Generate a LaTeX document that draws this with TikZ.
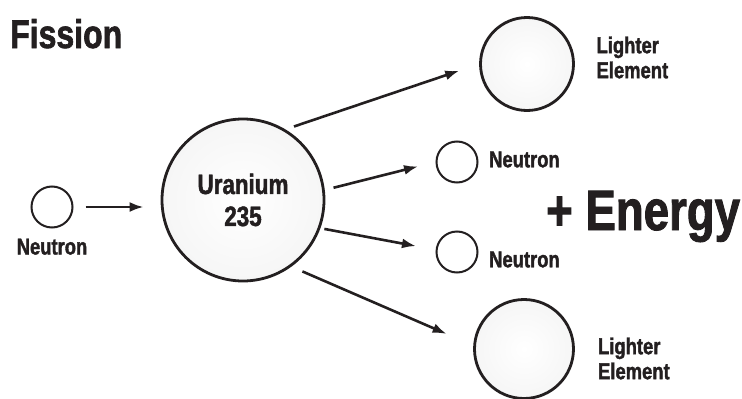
\documentclass[tikz,border=0pt]{standalone}
\usepackage{fontspec}
\setmainfont{Liberation Sans}[FakeStretch=0.8, BoldFeatures={FakeBold=1.6}]
\usetikzlibrary{arrows.meta,positioning}
\definecolor{ink}{HTML}{231F20}
\pgfdeclareradialshading{atomshade}{\pgfpoint{0bp}{0bp}}{color(0bp)=(white); color(28bp)=(white!96!black); color(43bp)=(black!28); color(50bp)=(black!50)}

\begin{document}
\begin{tikzpicture}[
    x=1pt, y=-1pt,
    node distance=10pt and 12pt,
    atom/.style={circle, draw=ink, line width=2.8pt, shading=atomshade, inner sep=0pt},
    neutron/.style={circle, draw=ink, line width=2pt, fill=white, minimum size=41pt, inner sep=0pt},
    tag/.style={text=ink, font=\fontsize{23}{25}\selectfont\bfseries, inner sep=0pt, align=left},
    arrow/.style={-{Latex[length=14pt, width=10pt]}, line width=2.6pt, draw=ink}
]
\useasboundingbox (0,0) rectangle (742,399);
\node[anchor=base west, text=ink, font=\fontsize{40}{44}\selectfont\bfseries, inner sep=0pt] (title) at (10,48) {Fission};
\node[neutron] (n0) at (52,207) {};
\node[tag, below=10pt of n0] (n0lab) {Neutron};
\node[atom, minimum size=162pt, align=center, text=ink, font=\fontsize{28}{32}\selectfont\bfseries] (u235) at (243,200) {Uranium\\235};
\node[atom, minimum size=93pt] (light1) at (527,64) {};
\node[atom, minimum size=99pt] (light2) at (524,349) {};
\node[neutron] (n1) at (457,162) {};
\node[neutron] (n2) at (457,252) {};
\node[tag, right=21.5pt of light1, yshift=6.5pt] (light1lab) {Lighter\\Element};
\node[tag, right=23pt of light2, yshift=-9.5pt] (light2lab) {Lighter\\Element};
\node[tag, right=10.5pt of n1, yshift=2.5pt] (n1lab) {Neutron};
\node[tag, right=10.5pt of n2, yshift=-7.5pt] (n2lab) {Neutron};
\node[anchor=base west, text=ink, font=\fontsize{57}{60}\selectfont\bfseries, inner sep=0pt] (energy) at (546,230) {+ Energy};
\draw[arrow, shorten <=12pt, shorten >=17pt] (n0.east) -- (n0.east -| u235.west);
\draw[arrow, shorten <=9pt, shorten >=21pt] (u235.59) -- (light1.180);
\draw[arrow, shorten <=9pt, shorten >=18pt] (u235.7) -- (n1.180);
\draw[arrow, shorten <=4pt, shorten >=20pt] (u235.-20) -- (n2.174);
\draw[arrow, shorten <=12pt, shorten >=29pt] (u235.-54) -- (light2.176);
\end{tikzpicture}
\end{document}
